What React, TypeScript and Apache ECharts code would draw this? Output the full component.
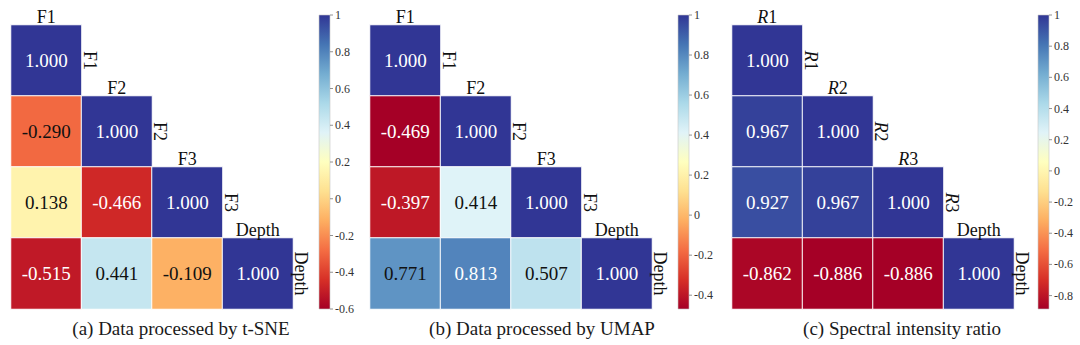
import React, { useEffect, useRef } from 'react';
import * as echarts from 'echarts';

// ---- data ----
const RDYLBU = ['#a50026', '#d73027', '#f46d43', '#fdae61', '#fee090', '#ffffbf', '#e0f3f8', '#abd9e9', '#74add1', '#4575b4', '#313695'];

const labelsA = ['F1', 'F2', 'F3', 'Depth'];
const labelsB = ['F1', 'F2', 'F3', 'Depth'];
const labelsC = ['R1', 'R2', 'R3', 'Depth'];

const valuesA = [[1.0], [-0.29, 1.0], [0.138, -0.466, 1.0], [-0.515, 0.441, -0.109, 1.0]];
const valuesB = [[1.0], [-0.469, 1.0], [-0.397, 0.414, 1.0], [0.771, 0.813, 0.507, 1.0]];
const valuesC = [[1.0], [0.967, 1.0], [0.927, 0.967, 1.0], [-0.862, -0.886, -0.886, 1.0]];

const rangeA = [-0.6, 1];
const rangeB = [-0.469, 1];
const rangeC = [-0.886, 1];

const ticksA = [-0.6, -0.4, -0.2, 0, 0.2, 0.4, 0.6, 0.8, 1];
const ticksB = [-0.4, -0.2, 0, 0.2, 0.4, 0.6, 0.8, 1];
const ticksC = [-0.8, -0.6, -0.4, -0.2, 0, 0.2, 0.4, 0.6, 0.8, 1];

const captions = ['(a) Data processed by t-SNE', '(b) Data processed by UMAP', '(c) Spectral intensity ratio'];

// ---- layout ----
const FONT = "'Liberation Serif', 'Times New Roman', serif";
const layout = [
  { gridLeft: 11, cbLeft: 319, capX: 181 },
  { gridLeft: 370, cbLeft: 678, capX: 542 },
  { gridLeft: 732, cbLeft: 1038, capX: 902 },
];
const GRID_TOP = 25, GRID_W = 282, GRID_H = 284;
const CB_TOP = 15, CB_W = 11, CB_H = 294;
const CAP_Y = 328;

function richName(name: string) {
  const m = /^R(\d)$/.exec(name);
  if (m) return `{i|R}{n|${m[1]}}`;
  return `{n|${name}}`;
}
const RICH = {
  i: { fontFamily: FONT, fontSize: 18, fontStyle: 'italic', fill: '#111', color: '#111' },
  n: { fontFamily: FONT, fontSize: 18, fill: '#111', color: '#111' },
};

function buildOption() {
  const panels = [
    { labels: labelsA, values: valuesA, range: rangeA, ticks: ticksA },
    { labels: labelsB, values: valuesB, range: rangeB, ticks: ticksB },
    { labels: labelsC, values: valuesC, range: rangeC, ticks: ticksC },
  ];
  const grid: any[] = [];
  const xAxis: any[] = [];
  const yAxis: any[] = [];
  const series: any[] = [];
  const visualMap: any[] = [];
  const graphic: any[] = [];

  panels.forEach((p, i) => {
    const L = layout[i];
    const [mn, mx] = p.range;
    grid.push({ left: L.gridLeft, top: GRID_TOP, width: GRID_W, height: GRID_H });
    grid.push({ left: L.cbLeft, top: CB_TOP, width: CB_W, height: CB_H });
    xAxis.push({ type: 'category', gridIndex: 2 * i, data: p.labels, show: false });
    yAxis.push({ type: 'category', gridIndex: 2 * i, data: p.labels, inverse: true, show: false });
    xAxis.push({ type: 'value', gridIndex: 2 * i + 1, min: 0, max: 1, show: false });
    yAxis.push({ type: 'value', gridIndex: 2 * i + 1, min: mn, max: mx, show: false });

    const data: any[] = [];
    p.values.forEach((row, r) => {
      row.forEach((v, c) => {
        const t = (v - mn) / (mx - mn);
        const dark = t < 0.15 || t > 0.85;
        data.push({ value: [c, r, v], label: { color: dark ? '#ffffff' : '#111111' } });
      });
    });
    const heatIndex = series.length;
    series.push({
      type: 'heatmap',
      xAxisIndex: 2 * i,
      yAxisIndex: 2 * i,
      data,
      itemStyle: { borderColor: '#ffffff', borderWidth: 1 },
      label: {
        show: true,
        fontFamily: FONT,
        fontSize: 19,
        formatter: (q: any) => Number(q.value[2]).toFixed(3),
      },
      emphasis: { disabled: true },
    });
    visualMap.push({
      show: false,
      type: 'continuous',
      seriesIndex: heatIndex,
      dimension: 2,
      min: mn,
      max: mx,
      inRange: { color: RDYLBU },
    });

    const labels = p.labels;
    series.push({
      type: 'custom',
      xAxisIndex: 2 * i,
      yAxisIndex: 2 * i,
      data: labels.map((_, k) => [k, k]),
      silent: true,
      renderItem: (params: any, api: any) => {
        const c = api.coord([api.value(0), api.value(1)]);
        const s = api.size([1, 1]);
        const name = labels[params.dataIndex];
        const text = richName(name);
        return {
          type: 'group',
          children: [
            {
              type: 'text',
              x: c[0],
              y: c[1] - s[1] / 2 + 1,
              style: {
                text, rich: RICH, fontFamily: FONT, fontSize: 18, fill: '#111',
                align: 'center', verticalAlign: 'bottom', textAlign: 'center', textVerticalAlign: 'bottom',
              },
            },
            {
              type: 'text',
              x: c[0] + s[0] / 2 - 1,
              y: c[1],
              rotation: -Math.PI / 2,
              style: {
                text, rich: RICH, fontFamily: FONT, fontSize: 18, fill: '#111',
                align: 'center', verticalAlign: 'bottom', textAlign: 'center', textVerticalAlign: 'bottom',
              },
            },
          ],
        };
      },
    });

    // colorbar
    series.push({
      type: 'custom',
      xAxisIndex: 2 * i + 1,
      yAxisIndex: 2 * i + 1,
      data: [[0, mn, 1, mx]],
      silent: true,
      renderItem: (_params: any, api: any) => {
        const p0 = api.coord([0, api.value(3)]);
        const p1 = api.coord([1, api.value(1)]);
        return {
          type: 'rect',
          shape: { x: p0[0], y: p0[1], width: p1[0] - p0[0], height: p1[1] - p0[1] },
          style: {
            fill: new echarts.graphic.LinearGradient(0, 1, 0, 0, RDYLBU.map((col, k) => ({ offset: k / (RDYLBU.length - 1), color: col }))),
            stroke: '#c8c8c8',
            lineWidth: 0.6,
          },
        };
      },
    });
    series.push({
      type: 'custom',
      xAxisIndex: 2 * i + 1,
      yAxisIndex: 2 * i + 1,
      data: p.ticks.map((v) => [1, v]),
      silent: true,
      renderItem: (params: any, api: any) => {
        const v = api.value(1);
        const c = api.coord([1, v]);
        return {
          type: 'group',
          children: [
            { type: 'line', shape: { x1: c[0], y1: c[1], x2: c[0] + 3, y2: c[1] }, style: { stroke: '#777', lineWidth: 0.8 } },
            {
              type: 'text',
              x: c[0] + 5,
              y: c[1],
              style: {
                text: String(p.ticks[params.dataIndex]), fontFamily: FONT, fontSize: 12, fill: '#333',
                align: 'left', verticalAlign: 'middle', textAlign: 'left', textVerticalAlign: 'middle',
              },
            },
          ],
        };
      },
    });

    graphic.push({
      type: 'text',
      x: L.capX,
      y: CAP_Y,
      style: {
        text: captions[i], fontFamily: FONT, fontSize: 19, fill: '#1a1a1a',
        font: `19px ${FONT}`,
        align: 'center', verticalAlign: 'middle', textAlign: 'center', textVerticalAlign: 'middle',
      },
    });
  });

  return { animation: false, grid, xAxis, yAxis, series, visualMap, graphic };
}

export default function App() {
  const ref = useRef<HTMLDivElement>(null);
  useEffect(() => {
    if (!ref.current) return;
    const chart = echarts.init(ref.current, undefined, { renderer: 'svg' });
    chart.setOption(buildOption() as any);
    return () => chart.dispose();
  }, []);
  return (
    <div
      ref={ref}
      style={{ position: 'fixed', left: 0, top: 0, width: 1080, height: 345, background: '#ffffff' }}
    />
  );
}
